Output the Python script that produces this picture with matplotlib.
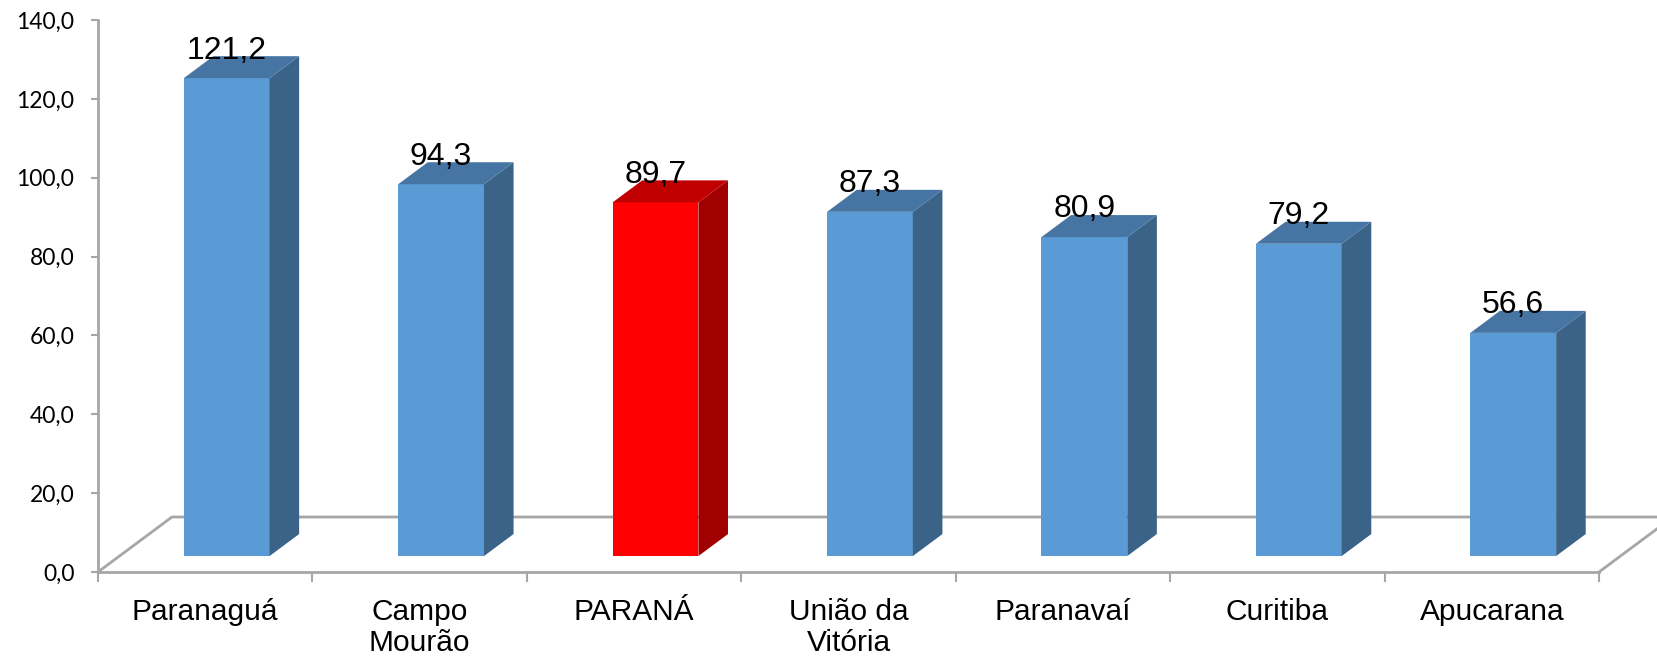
import matplotlib
matplotlib.use("Agg")
import matplotlib.pyplot as plt
from matplotlib.patches import Polygon
from matplotlib.ticker import FuncFormatter, FixedLocator

categories = ["Paranaguá", "Campo\nMourão", "PARANÁ", "União da\nVitória", "Paranavaí", "Curitiba", "Apucarana"]
values = [121.2, 94.3, 89.7, 87.3, 80.9, 79.2, 56.6]
highlight = ["PARANÁ"]
yticks = [0, 20, 40, 60, 80, 100, 120, 140]

BLUE = ("#5B9BD5", "#4675A3", "#3A6387")   # front, top, side
RED = ("#FF0000", "#C00000", "#A00000")
GRID = "#A6A6A6"

fig = plt.figure(figsize=(16.57, 6.61), dpi=100)
ax = fig.add_axes([98 / 1657, 89 / 661, (1599 - 98) / 1657, (572 - 20) / 661])
n = len(categories)
ax.set_xlim(-0.5, n - 0.5)
ax.set_ylim(0, 140)

# depth of floor (data units)
DX, DY = 0.345, 13.95
f0, f1 = 0.29, 0.69
ox, oy = f0 * DX, f0 * DY
sdx, sdy = (f1 - f0) * DX, (f1 - f0) * DY
w = 0.4

# floor
x_left, x_right = -0.5, n - 0.5
ax.plot([x_left, x_left + DX, x_right + DX], [0, DY, DY], color=GRID, lw=2, clip_on=False, zorder=1)
ax.plot([x_right, x_right + DX], [0, DY], color=GRID, lw=2, clip_on=False, zorder=1)

for i, (cat, v) in enumerate(zip(categories, values)):
    front, top, side = RED if cat in highlight else BLUE
    x0 = i - w / 2 + ox
    x1 = i + w / 2 + ox
    y0 = oy
    y1 = oy + v
    ax.add_patch(Polygon([(x0, y0), (x1, y0), (x1, y1), (x0, y1)], closed=True,
                         facecolor=front, edgecolor="none", zorder=3, clip_on=False))
    ax.add_patch(Polygon([(x1, y0), (x1 + sdx, y0 + sdy), (x1 + sdx, y1 + sdy), (x1, y1)], closed=True,
                         facecolor=side, edgecolor="none", zorder=3, clip_on=False))
    ax.add_patch(Polygon([(x0, y1), (x1, y1), (x1 + sdx, y1 + sdy), (x0 + sdx, y1 + sdy)], closed=True,
                         facecolor=top, edgecolor="none", zorder=3, clip_on=False))
    ax.text((x0 + x1) / 2, y1 + sdy - 0.6, f"{v:.1f}".replace(".", ","), ha="center", va="baseline",
            fontsize=23, family="Liberation Sans", color="black", zorder=5, clip_on=False)

for s in ["top", "right"]:
    ax.spines[s].set_visible(False)
ax.spines["left"].set_color(GRID)
ax.spines["left"].set_linewidth(2)
ax.spines["bottom"].set_color(GRID)
ax.spines["bottom"].set_linewidth(2)
ax.spines["bottom"].set_zorder(1)
ax.spines["left"].set_zorder(1)

ax.yaxis.set_major_locator(FixedLocator(yticks))
ax.yaxis.set_major_formatter(FuncFormatter(lambda v, p: f"{v:.1f}".replace(".", ",")))
ax.tick_params(axis="y", direction="out", length=5, width=1.5, color=GRID, pad=12, labelsize=16.5)
for lab in ax.get_yticklabels():
    lab.set_family("Lato")

ax.set_xticks([k - 0.5 for k in range(n + 1)])
ax.set_xticklabels([])
ax.set_xticks(list(range(n)), minor=True)
ax.set_xticklabels(categories, minor=True, fontsize=21.5, family="Liberation Sans", linespacing=1.1)
ax.tick_params(axis="x", which="major", direction="out", length=7, width=1.5, color=GRID)
ax.tick_params(axis="x", which="minor", length=0, pad=19)
ax.patch.set_alpha(0)

fig.savefig("out.png", dpi=100)
